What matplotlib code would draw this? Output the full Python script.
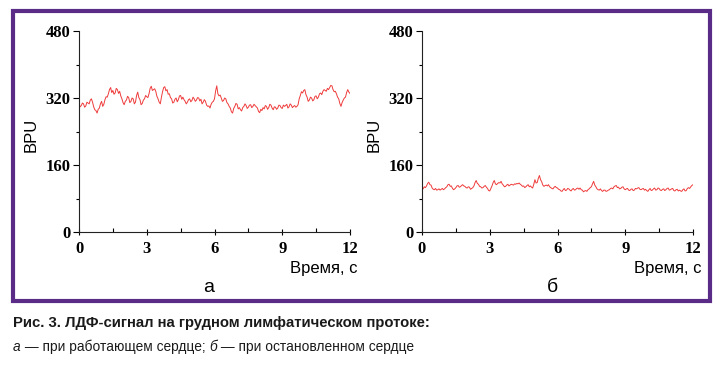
import matplotlib.pyplot as plt
from matplotlib.patches import Rectangle
from matplotlib.ticker import MultipleLocator
import numpy as np

# signal values, one every 0.05 s
bpu_a = [305, 299, 302, 308, 306, 298, 301, 310, 308, 306,
	315, 318, 310, 299, 292, 290, 284, 293, 296, 306,
	312, 300, 305, 316, 323, 322, 330, 340, 345, 333,
	338, 329, 332, 343, 340, 331, 336, 325, 318, 309,
	304, 312, 315, 324, 321, 309, 312, 320, 318, 306,
	310, 326, 334, 321, 316, 304, 307, 315, 318, 326,
	323, 321, 330, 343, 348, 338, 340, 342, 336, 324,
	318, 310, 306, 322, 335, 345, 347, 337, 340, 329,
	330, 321, 318, 308, 310, 317, 320, 311, 316, 325,
	326, 317, 322, 316, 312, 306, 310, 316, 318, 311,
	314, 322, 318, 312, 315, 321, 320, 313, 317, 306,
	310, 316, 312, 303, 300, 301, 296, 305, 310, 312,
	318, 337, 349, 330, 325, 327, 320, 312, 314, 320,
	318, 309, 306, 300, 296, 287, 284, 295, 300, 307,
	305, 294, 297, 292, 289, 297, 300, 306, 302, 295,
	298, 303, 304, 297, 300, 305, 302, 299, 296, 288,
	285, 293, 290, 297, 294, 302, 300, 293, 297, 305,
	303, 296, 292, 299, 298, 293, 296, 303, 302, 297,
	295, 303, 300, 302, 305, 296, 299, 306, 303, 297,
	300, 302, 298, 300, 304, 318, 326, 335, 332, 338,
	340, 328, 322, 312, 315, 322, 320, 313, 316, 324,
	325, 318, 322, 330, 332, 328, 336, 340, 338, 336,
	343, 340, 345, 350, 349, 340, 335, 336, 330, 322,
	318, 307, 300, 309, 315, 320, 322, 333, 340, 334,
	331]

bpu_b = [105, 103, 108, 106, 110, 116, 119, 113, 112, 105,
	102, 101, 104, 100, 101, 103, 100, 102, 104, 101,
	103, 106, 108, 113, 114, 109, 110, 104, 101, 103,
	106, 110, 111, 107, 108, 111, 113, 110, 109, 106,
	105, 108, 107, 102, 104, 106, 110, 118, 123, 116,
	114, 109, 108, 105, 106, 109, 111, 107, 104, 99,
	98, 104, 110, 118, 123, 115, 113, 116, 118, 117,
	121, 115, 112, 108, 109, 112, 114, 110, 112, 114,
	113, 112, 115, 114, 116, 115, 117, 114, 112, 109,
	110, 106, 108, 111, 113, 108, 110, 107, 105, 114,
	125, 117, 118, 128, 135, 125, 120, 112, 109, 111,
	112, 110, 113, 108, 106, 104, 103, 107, 109, 106,
	105, 102, 101, 98, 97, 101, 104, 99, 100, 104,
	103, 100, 98, 102, 104, 100, 101, 104, 105, 102,
	105, 101, 100, 96, 98, 99, 97, 101, 103, 106,
	108, 115, 121, 112, 108, 103, 101, 100, 103, 99,
	97, 100, 100, 97, 98, 100, 101, 104, 105, 103,
	108, 110, 111, 106, 107, 103, 104, 107, 108, 103,
	101, 103, 104, 100, 99, 102, 103, 99, 100, 104,
	103, 105, 106, 102, 101, 103, 104, 100, 102, 99,
	97, 101, 104, 99, 100, 103, 105, 100, 101, 105,
	104, 100, 99, 102, 103, 99, 101, 104, 105, 100,
	101, 103, 104, 99, 98, 101, 102, 98, 100, 98,
	97, 101, 103, 98, 99, 104, 106, 104, 108, 111,
	113]

panel_labels = ['а', 'б']
xlabel = 'Время, с'
ylabel = 'BPU'
caption_1 = 'Рис. 3. ЛДФ-сигнал на грудном лимфатическом протоке:'
caption_2 = [('а', 'italic'), (' — при работающем сердце; ', 'normal'),
	('б', 'italic'), (' — при остановленном сердце', 'normal')]

W, H = 722, 373
fig = plt.figure(figsize=(W / 100, H / 100), dpi=100)

# purple frame around both panels
fig.patches.append(Rectangle((13 / W, 1 - 301 / H), 697 / W, 290 / H,
	transform=fig.transFigure, fill=False, edgecolor='#5b2c87', linewidth=3))

serif = ['Liberation Serif', 'DejaVu Serif']
sans = ['Liberation Sans', 'DejaVu Sans']

lefts = [79, 422]
for i, vals in enumerate([bpu_a, bpu_b]):
	ax = fig.add_axes([lefts[i] / W, 1 - 232 / H, 271 / W, 201 / H])
	t = np.linspace(0, 12, len(vals))
	ax.plot(t, vals, color='#ef3b3b', linewidth=0.7)
	ax.set_xlim(0, 12)
	ax.set_ylim(0, 480)
	ax.spines['top'].set_visible(False)
	ax.spines['right'].set_visible(False)
	for s in ['left', 'bottom']:
		ax.spines[s].set_linewidth(0.8)
		ax.spines[s].set_color('#222222')
	ax.xaxis.set_major_locator(MultipleLocator(3))
	ax.xaxis.set_minor_locator(MultipleLocator(1.5))
	ax.yaxis.set_major_locator(MultipleLocator(160))
	ax.yaxis.set_minor_locator(MultipleLocator(80))
	ax.tick_params(axis='x', which='major', direction='inout', length=5, width=0.8, pad=4)
	ax.tick_params(axis='x', which='minor', direction='in', length=3, width=0.8)
	ax.tick_params(axis='y', which='major', direction='out', length=4, width=0.8, pad=2)
	ax.tick_params(axis='y', which='minor', direction='out', length=2, width=0.8)
	for lab in ax.get_xticklabels() + ax.get_yticklabels():
		lab.set_family(serif)
		lab.set_fontweight('bold')
		lab.set_fontsize(12)
	ax.patch.set_alpha(0)

	x0 = lefts[i]
	fig.text((x0 - 48) / W, 1 - 135 / H, ylabel, rotation=90, ha='center', va='center',
		fontsize=12, family=sans)
	fig.text((x0 + 279) / W, 1 - 269 / H, xlabel, ha='right', va='center',
		fontsize=12, family=sans)
	fig.text((x0 + 130) / W, 1 - 287 / H, panel_labels[i], ha='center', va='center',
		fontsize=14, family=sans)

fig.text(13 / W, 1 - 327 / H, caption_1, ha='left', va='baseline', fontsize=10.75,
	fontweight='bold', family=sans, color='#1a1a1a')

# second caption line in pieces so the letters can be italic
fig.canvas.draw()
r = fig.canvas.get_renderer()
x = 13
for txt, st in caption_2:
	tt = fig.text(x / W, 1 - 351 / H, txt, ha='left', va='baseline', fontsize=9.9,
		style=st, family=sans, color='#1a1a1a')
	x += tt.get_window_extent(r).width

plt.savefig('out.png', dpi=100)
